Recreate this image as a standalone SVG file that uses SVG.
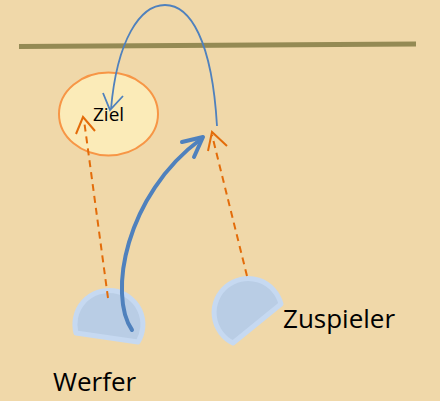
<svg xmlns="http://www.w3.org/2000/svg" width="440" height="401" viewBox="0 0 440 401">
<style>
.player{fill:#B9CDE5;stroke:#C6D9F1;stroke-width:5;stroke-linejoin:round}
.lbl{font-family:"Open Sans","Liberation Sans",sans-serif;fill:#000}
.dash{fill:none;stroke:#E36C0A;stroke-width:2;stroke-dasharray:7 5}
.ah{fill:none;stroke:#E36C0A;stroke-width:2}
</style>
<rect width="440" height="401" fill="#F0D8A9"/>
<line x1="19" y1="46.5" x2="416" y2="44" stroke="#948A54" stroke-width="5"/>
<g id="ziel">
<ellipse cx="108.5" cy="114" rx="49.5" ry="41.5" fill="#FBEBB8" stroke="#F79646" stroke-width="2"/>
<text class="lbl" x="93" y="121" font-size="19">Ziel</text>
</g>
<g id="werfer">
<path class="player" d="M76,333 A34,34 0 1 1 138,342 Z"/>
<text class="lbl" x="53" y="391" font-size="26">Werfer</text>
</g>
<g id="zuspieler">
<path class="player" d="M233,343 A34,34 0 1 1 281,304 Z"/>
<text class="lbl" x="283" y="328" font-size="26">Zuspieler</text>
</g>
<g id="connectors">
<line class="dash" x1="108" y1="298" x2="84" y2="120"/>
<polyline class="ah" points="76,134 83,117 95,131"/>
<line class="dash" x1="247" y1="276" x2="212" y2="135"/>
<polyline class="ah" points="208,151 212,132 227,146"/>
<path d="M217,126 C212,40 190,5 165,5 C140,5 117,40 111,109" fill="none" stroke="#4F81BD" stroke-width="1.8"/>
<polyline points="103,93 110,110 123,96" fill="none" stroke="#4F81BD" stroke-width="1.8"/>
<path d="M132,330 C108,295 125,195 201,139" fill="none" stroke="#4F81BD" stroke-width="4" stroke-linecap="round"/>
<polyline points="182,142 203,137 194,157" fill="none" stroke="#4F81BD" stroke-width="4" stroke-linecap="round" stroke-linejoin="round"/>
</g>
</svg>
